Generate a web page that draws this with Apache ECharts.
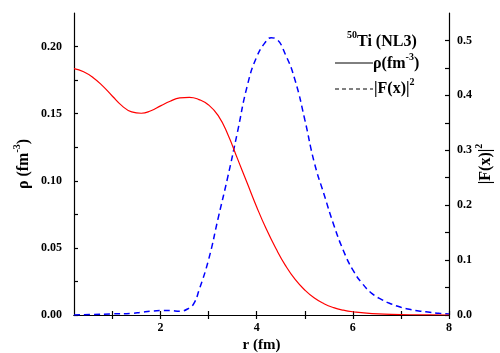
<!DOCTYPE html>
<html><head><meta charset="utf-8">
<script src="https://cdn.jsdelivr.net/npm/echarts@6/dist/echarts.min.js"></script>
<style>html,body{margin:0;padding:0;background:#fff}#c{width:500px;height:353px}</style>
</head><body><div id="c"></div>
<script>
// Density rho(r) in fm^-3
const rRho = [0.2,0.4,0.6,0.8,1.0,1.2,1.4,1.6,1.8,2.0,2.2,2.4,2.6,2.8,3.0,3.2,3.4,3.6,3.8,4.0,4.2,4.4,4.6,4.8,5.0,5.2,5.4,5.6,5.8,6.0,6.4,6.8,7.2,7.6,8.0];
const rho  = [0.1836,0.1812,0.1768,0.1705,0.1630,0.1558,0.1513,0.1503,0.1522,0.1558,0.1593,0.1617,0.1622,0.1605,0.1565,0.1485,0.1345,0.1165,0.0985,0.0805,0.0640,0.0495,0.0368,0.0265,0.0186,0.0126,0.0084,0.0055,0.0036,0.0024,0.0010,0.0005,0.0002,0.0001,0.0000];
// Form factor |F(x)|^2
const rF = [0.2,0.6,1.0,1.4,1.6,1.8,2.0,2.2,2.4,2.6,2.7,2.8,3.0,3.2,3.4,3.6,3.8,4.0,4.2,4.3,4.4,4.6,4.8,5.0,5.2,5.4,5.6,5.8,6.0,6.2,6.4,6.6,6.8,7.0,7.2,7.4,7.6,7.8,8.0];
const F  = [0.000,0.001,0.002,0.003,0.005,0.007,0.008,0.008,0.007,0.013,0.022,0.045,0.101,0.177,0.252,0.333,0.416,0.470,0.499,0.505,0.503,0.474,0.427,0.356,0.277,0.220,0.165,0.118,0.082,0.057,0.039,0.028,0.020,0.014,0.010,0.007,0.005,0.003,0.002];
// Ticks
const xTickValues = [1,2,3,4,5,6,7,8];
const xLabelValues = [2,4,6,8];
const leftTickValues = [0,0.025,0.05,0.075,0.1,0.125,0.15,0.175,0.2];
const leftLabelValues = [0,0.05,0.1,0.15,0.2];
const rightTickValues = [0,0.05,0.1,0.15,0.2,0.25,0.3,0.35,0.4,0.45,0.5];
const rightLabelValues = [0,0.1,0.2,0.3,0.4,0.5];

const FONT = "'Liberation Serif','Times New Roman',serif";
const chart = echarts.init(document.getElementById('c'), null, {renderer:'canvas'});
const lineStyleAxis = {color:'#000', width:1.2};
const labelStyle = {color:'#000', fontFamily:FONT, fontWeight:'bold', fontSize:12};
const titleRich = {
  a:{fontFamily:FONT, fontWeight:'bold', fontSize:16, color:'#000', lineHeight:20, verticalAlign:'bottom'},
  s:{fontFamily:FONT, fontWeight:'bold', fontSize:10, color:'#000', lineHeight:20, verticalAlign:'top'}
};
chart.setOption({
  animation:false,
  backgroundColor:'#fff',
  grid:{left:74, right:51, top:13, bottom:38, containLabel:false, outerBoundsMode:'none'},
  xAxis:[{
    type:'value', min:0.2, max:8, position:'bottom',
    name:'r (fm)', nameLocation:'middle', nameGap:23, nameMoveOverlap:false,
    nameTextStyle:{fontFamily:FONT, fontWeight:'bold', fontSize:15, color:'#000'},
    axisLine:{show:true, lineStyle:lineStyleAxis},
    axisTick:{show:true, inside:true, length:4, customValues:xTickValues, lineStyle:lineStyleAxis},
    axisLabel:Object.assign({margin:7, customValues:xLabelValues, formatter:v=>String(v)}, labelStyle),
    splitLine:{show:false}
  },{
    type:'value', min:0.2, max:8, position:'top',
    axisLine:{show:true, lineStyle:lineStyleAxis},
    axisTick:{show:true, inside:true, length:4, customValues:xTickValues, lineStyle:lineStyleAxis},
    axisLabel:{show:false}, splitLine:{show:false}
  }],
  yAxis:[{
    type:'value', min:0, max:0.225, position:'left',
    name:'{a|ρ (fm}{s|-3}{a|)}', nameLocation:'middle', nameGap:42, nameRotate:90, nameMoveOverlap:false,
    nameTextStyle:{rich:titleRich},
    axisLine:{show:true, lineStyle:lineStyleAxis},
    axisTick:{show:true, inside:true, length:4, customValues:leftTickValues, lineStyle:lineStyleAxis},
    axisLabel:Object.assign({margin:12, customValues:leftLabelValues, formatter:v=>v.toFixed(2)}, labelStyle),
    splitLine:{show:false}
  },{
    type:'value', min:0, max:0.55, position:'right',
    name:'{a||F(x)|}{s|2}', nameLocation:'middle', nameGap:25, nameRotate:90, nameMoveOverlap:false,
    nameTextStyle:{rich:titleRich},
    axisLine:{show:true, lineStyle:lineStyleAxis},
    axisTick:{show:true, inside:true, length:4, customValues:rightTickValues, lineStyle:lineStyleAxis},
    axisLabel:Object.assign({margin:8, customValues:rightLabelValues, formatter:v=>v.toFixed(1)}, labelStyle),
    splitLine:{show:false}
  }],
  series:[{
    type:'line', xAxisIndex:0, yAxisIndex:0, showSymbol:false, smooth:0.5,
    data: rRho.map((x,i)=>[x,rho[i]]),
    lineStyle:{color:'#ff0000', width:1.2}, z:3
  },{
    type:'line', xAxisIndex:0, yAxisIndex:1, showSymbol:false, smooth:0.5,
    data: rF.map((x,i)=>[x,F[i]]),
    lineStyle:{color:'#0000ff', width:1.5, type:[6,4]}, z:2
  }],
  graphic:[
    {type:'text', left:347, top:30, style:{text:'{s|50}{a|Ti (NL3)}', rich:titleRich}},
    {type:'line', shape:{x1:335, y1:63, x2:373, y2:63}, style:{stroke:'#000', lineWidth:1}},
    {type:'text', left:373, top:52, style:{text:'{a|ρ(fm}{s|-3}{a|)}', rich:titleRich}},
    {type:'line', shape:{x1:335, y1:89, x2:373, y2:89}, style:{stroke:'#000', lineWidth:1, lineDash:[4,3]}},
    {type:'text', left:374, top:77, style:{text:'{a||F(x)|}{s|2}', rich:titleRich}}
  ]
});
</script></body></html>
